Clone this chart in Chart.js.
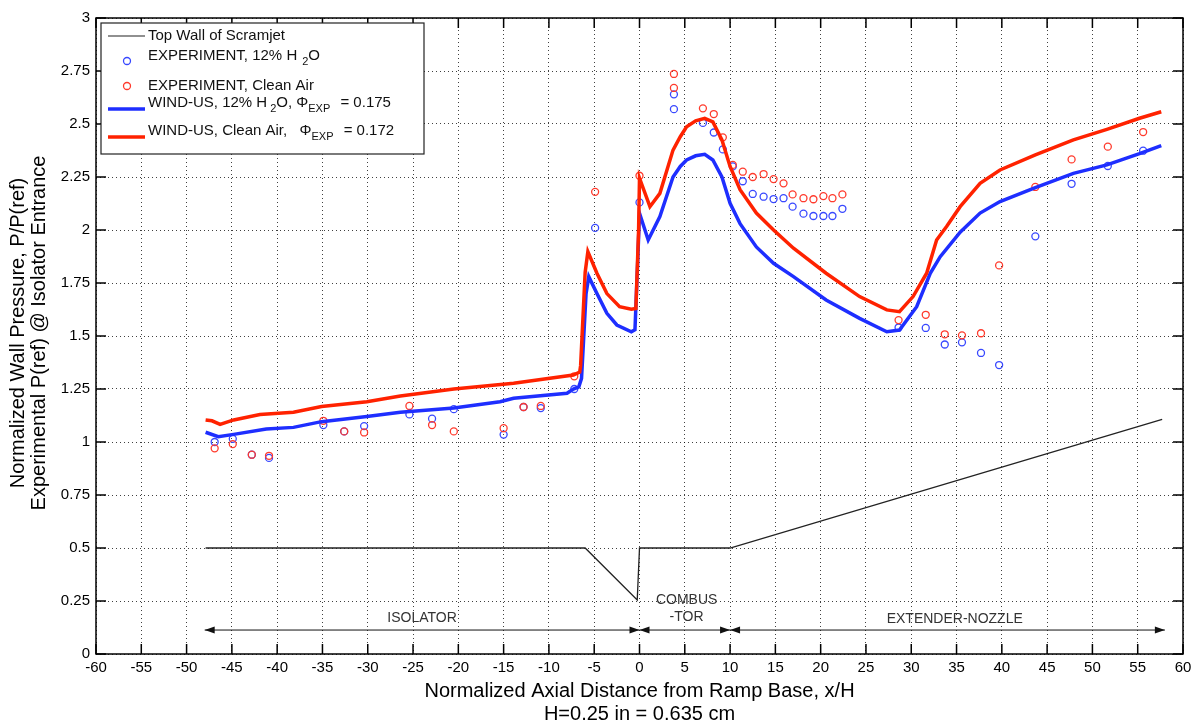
<!DOCTYPE html>
<html lang="en">
<head>
<meta charset="UTF-8">
<title>Normalized Wall Pressure - Scramjet</title>
<script src="https://cdn.jsdelivr.net/npm/chart.js"></script>
<style>
  body { margin: 0; background: #fff; }
</style>
</head>
<body>
<canvas id="chartWall" width="1197" height="725"></canvas>
<script>
// --- Daten ---

// Top wall of scramjet (geometry line)
const wallX = [-47.9, -6.0, -0.25, 0.0, 10.0, 57.7];
const wallY = [0.5, 0.5, 0.255, 0.5, 0.5, 1.107];

// Experiment points (same stations for both runs)
const expX = [-46.9, -44.9, -42.8, -40.9, -34.9, -32.6, -30.4, -25.4, -22.9, -20.5, -15.0, -12.8, -10.9, -7.2,
              -4.9, 0.0, 3.8, 3.8, 7.0, 8.2, 9.2, 10.3, 11.4, 12.5, 13.7, 14.8, 15.9, 16.9, 18.1, 19.2, 20.3,
              21.3, 22.4, 28.6, 31.6, 33.7, 35.6, 37.7, 39.7, 43.7, 47.7, 51.7, 55.6];
const expH2O = [1.0, 1.015, 0.94, 0.925, 1.08, 1.05, 1.075, 1.13, 1.11, 1.155, 1.035, 1.165, 1.16, 1.25,
                2.01, 2.13, 2.64, 2.57, 2.505, 2.46, 2.38, 2.30, 2.23, 2.17, 2.157, 2.146, 2.15, 2.11, 2.077, 2.066, 2.066,
                2.066, 2.10, 1.54, 1.538, 1.46, 1.47, 1.42, 1.363, 1.97, 2.218, 2.302, 2.374];
const expAir = [0.97, 0.99, 0.94, 0.935, 1.10, 1.05, 1.045, 1.17, 1.08, 1.05, 1.065, 1.165, 1.17, 1.31,
                2.18, 2.256, 2.736, 2.67, 2.574, 2.547, 2.437, 2.307, 2.275, 2.25, 2.264, 2.24, 2.22, 2.168, 2.15, 2.145, 2.16,
                2.15, 2.168, 1.575, 1.6, 1.508, 1.503, 1.513, 1.833, 2.203, 2.333, 2.393, 2.462];

// WIND-US, 12% H2O
const cfdH2OX = [-47.9, -46.5, -44.8, -41.2, -38.2, -35.1, -30.1, -26.4, -20.5, -15.4, -13.9, -8.0, -7.3, -6.7,
                 -6.4, -5.9, -5.6, -4.7, -3.6, -2.5, -0.9, -0.5, -0.2, 0.0, 0.96, 2.25, 3.7, 4.5, 5.2, 6.2, 7.2, 8.1, 9.1,
                 10.0, 11.1, 12.9, 14.8, 17.0, 20.6, 24.3, 27.3, 28.7, 30.6, 32.1, 33.2, 35.4, 37.6, 39.8, 43.7,
                 47.9, 51.6, 55.2, 57.6];
const cfdH2O = [1.046, 1.025, 1.036, 1.061, 1.069, 1.096, 1.12, 1.14, 1.16, 1.19, 1.206, 1.23, 1.25, 1.26,
                1.30, 1.70, 1.78, 1.70, 1.607, 1.552, 1.52, 1.53, 1.85, 2.079, 1.953, 2.063, 2.25, 2.30, 2.33, 2.35, 2.357, 2.33, 2.25,
                2.126, 2.03, 1.92, 1.843, 1.78, 1.67, 1.583, 1.52, 1.528, 1.638, 1.796, 1.874, 1.99, 2.08, 2.134, 2.2,
                2.267, 2.307, 2.36, 2.398];

// WIND-US, clean air
const cfdAirX = [-47.9, -47.2, -46.3, -44.8, -41.9, -38.2, -35.1, -30.1, -26.4, -20.5, -13.9, -7.3, -6.6,
                 -6.5, -6.0, -5.7, -4.7, -3.6, -2.2, -0.9, -0.4, -0.1, 0.0, 1.15, 2.25, 3.7, 4.5, 5.2, 6.2, 7.2, 8.1, 9.1,
                 10.0, 11.1, 12.9, 14.8, 17.0, 20.6, 24.3, 27.3, 28.7, 30.2, 31.7, 32.8, 33.9, 35.4, 37.6, 39.8,
                 43.7, 47.9, 51.6, 55.2, 57.6];
const cfdAir = [1.104, 1.10, 1.083, 1.104, 1.13, 1.14, 1.167, 1.19, 1.217, 1.25, 1.277, 1.316, 1.33,
                1.36, 1.80, 1.898, 1.796, 1.70, 1.638, 1.626, 1.63, 2.0, 2.244, 2.11, 2.173, 2.377, 2.44, 2.487, 2.515, 2.527, 2.51, 2.425,
                2.30, 2.19, 2.08, 2.0, 1.914, 1.796, 1.686, 1.623, 1.615, 1.686, 1.796, 1.953, 2.016, 2.11, 2.22, 2.283,
                2.354, 2.425, 2.475, 2.527, 2.558];

// Sections along the duct
const sectionEdges = [-48, 0, 10, 58];
const arrowLevel = 0.113;
const sectionText = ['ISOLATOR', 'COMBUS', '-TOR', 'EXTENDER-NOZZLE'];
const sectionTextX = [-24, 5.2, 5.2, 34.8];
const sectionTextY = [0.168, 0.255, 0.175, 0.165];

const xTitle = ['Normalized Axial Distance from Ramp Base, x/H', 'H=0.25 in = 0.635 cm'];
const yTitle = ['Normalized Wall Pressure, P/P(ref)', 'Experimental P(ref) @ Isolator Entrance'];

// --- Farben / Schrift ---
const FONT = '"Liberation Sans", Arial, Helvetica, sans-serif';
const BLUE_LINE = '#1e2eff';
const RED_LINE = '#ff2200';
const BLUE_PT = '#3848ff';
const RED_PT = '#ff3a2c';

const pts = (xs, ys) => xs.map((x, i) => ({ x: x, y: ys[i] }));

// Zeichnet Text mit Tiefstellungen (fuer Legende)
function richText(ctx, x, y, parts) {
    parts.forEach(p => {
        ctx.font = p.sub ? '11px ' + FONT : '15px ' + FONT;
        x += p.gap || 0;
        ctx.fillText(p.t, x, y + (p.sub ? 6 : 0));
        x += ctx.measureText(p.t).width;
    });
}

function arrowHead(ctx, tipX, y, dir) {
    ctx.beginPath();
    ctx.moveTo(tipX, y);
    ctx.lineTo(tipX - dir * 10, y - 3.5);
    ctx.lineTo(tipX - dir * 10, y + 3.5);
    ctx.closePath();
    ctx.fill();
}

const decorPlugin = {
    id: 'decor',
    afterDraw(chart) {
        const { ctx, chartArea: a, scales } = chart;
        const sx = scales.x, sy = scales.y;
        ctx.save();

        // Pfeile und Abschnittsnamen
        ctx.strokeStyle = '#111';
        ctx.fillStyle = '#111';
        ctx.lineWidth = 1;
        const ay = sy.getPixelForValue(arrowLevel);
        for (let i = 0; i < sectionEdges.length - 1; i++) {
            const x1 = sx.getPixelForValue(sectionEdges[i]);
            const x2 = sx.getPixelForValue(sectionEdges[i + 1]);
            ctx.beginPath();
            ctx.moveTo(x1, ay);
            ctx.lineTo(x2, ay);
            ctx.stroke();
            arrowHead(ctx, x1, ay, -1);
            arrowHead(ctx, x2, ay, 1);
        }
        ctx.fillStyle = '#333';
        ctx.font = '14px ' + FONT;
        ctx.textAlign = 'center';
        ctx.textBaseline = 'middle';
        sectionText.forEach((t, i) => {
            ctx.fillText(t, sx.getPixelForValue(sectionTextX[i]), sy.getPixelForValue(sectionTextY[i]));
        });

        // Rahmen und Ticks nach innen
        ctx.strokeStyle = '#000';
        ctx.lineWidth = 1.5;
        sx.ticks.forEach(t => {
            const px = sx.getPixelForValue(t.value);
            ctx.beginPath();
            ctx.moveTo(px, a.bottom); ctx.lineTo(px, a.bottom - 10);
            ctx.moveTo(px, a.top); ctx.lineTo(px, a.top + 10);
            ctx.stroke();
        });
        sy.ticks.forEach(t => {
            const py = sy.getPixelForValue(t.value);
            ctx.beginPath();
            ctx.moveTo(a.left, py); ctx.lineTo(a.left + 10, py);
            ctx.moveTo(a.right, py); ctx.lineTo(a.right - 10, py);
            ctx.stroke();
        });
        ctx.strokeRect(a.left, a.top, a.right - a.left, a.bottom - a.top);

        // Achsentitel
        ctx.fillStyle = '#000';
        ctx.font = '20px ' + FONT;
        ctx.textAlign = 'center';
        ctx.textBaseline = 'middle';
        const cx = (a.left + a.right) / 2;
        ctx.fillText(xTitle[0], cx, 691);
        ctx.fillText(xTitle[1], cx, 714);
        const cy = (a.top + a.bottom) / 2 - 3;
        [18, 39].forEach((px, i) => {
            ctx.save();
            ctx.translate(px, cy);
            ctx.rotate(-Math.PI / 2);
            ctx.fillText(yTitle[i], 0, 0);
            ctx.restore();
        });

        // Legende
        const lx = a.left + 5, ly = a.top + 5, lw = 323, lh = 131;
        ctx.fillStyle = '#fff';
        ctx.fillRect(lx, ly, lw, lh);
        ctx.strokeStyle = '#222';
        ctx.lineWidth = 1.2;
        ctx.strokeRect(lx, ly, lw, lh);

        const sampleL = lx + 7, sampleR = lx + 44, textX = lx + 47;
        ctx.textAlign = 'left';
        ctx.textBaseline = 'middle';
        ctx.fillStyle = '#111';

        // Zeile 1
        ctx.strokeStyle = '#222';
        ctx.lineWidth = 1.2;
        ctx.beginPath(); ctx.moveTo(sampleL, ly + 13); ctx.lineTo(sampleR, ly + 13); ctx.stroke();
        richText(ctx, textX, ly + 13, [{ t: chart.data.datasets[0].label }]);

        // Zeile 2 / 3: Kreise
        ctx.lineWidth = 1.3;
        ctx.strokeStyle = BLUE_PT;
        ctx.beginPath(); ctx.arc(lx + 26, ly + 38, 3.5, 0, Math.PI * 2); ctx.stroke();
        richText(ctx, textX, ly + 33, [{ t: 'EXPERIMENT, 12% H' }, { t: '2', sub: true, gap: 5 }, { t: 'O' }]);
        ctx.strokeStyle = RED_PT;
        ctx.beginPath(); ctx.arc(lx + 26, ly + 63, 3.5, 0, Math.PI * 2); ctx.stroke();
        richText(ctx, textX, ly + 63, [{ t: 'EXPERIMENT, Clean Air' }]);

        // Zeile 4 / 5: dicke Linien
        ctx.lineWidth = 3.5;
        ctx.strokeStyle = BLUE_LINE;
        ctx.beginPath(); ctx.moveTo(sampleL, ly + 86); ctx.lineTo(sampleR, ly + 86); ctx.stroke();
        richText(ctx, textX, ly + 80, [{ t: 'WIND-US, 12% H' }, { t: '2', sub: true, gap: 3 }, { t: 'O, ' },
            { t: 'Φ' }, { t: 'EXP', sub: true }, { t: ' = 0.175', gap: 6 }]);
        ctx.strokeStyle = RED_LINE;
        ctx.beginPath(); ctx.moveTo(sampleL, ly + 114); ctx.lineTo(sampleR, ly + 114); ctx.stroke();
        richText(ctx, textX, ly + 108, [{ t: 'WIND-US, Clean Air,  ' }, { t: 'Φ', gap: 4 }, { t: 'EXP', sub: true },
            { t: ' = 0.172', gap: 6 }]);

        ctx.restore();
    }
};

new Chart(document.getElementById('chartWall'), {
    type: 'line',
    data: {
        datasets: [
            {
                label: 'Top Wall of Scramjet',
                data: pts(wallX, wallY),
                borderColor: '#222', borderWidth: 1.3,
                pointRadius: 0, order: 5
            },
            {
                label: 'EXPERIMENT, 12% H2O',
                data: pts(expX, expH2O),
                showLine: false,
                pointStyle: 'circle', pointRadius: 3.5,
                pointBorderColor: BLUE_PT, pointBackgroundColor: 'rgba(0,0,0,0)', pointBorderWidth: 1.3,
                order: 4
            },
            {
                label: 'EXPERIMENT, Clean Air',
                data: pts(expX, expAir),
                showLine: false,
                pointStyle: 'circle', pointRadius: 3.5,
                pointBorderColor: RED_PT, pointBackgroundColor: 'rgba(0,0,0,0)', pointBorderWidth: 1.3,
                order: 3
            },
            {
                label: 'WIND-US, 12% H2O',
                data: pts(cfdH2OX, cfdH2O),
                borderColor: BLUE_LINE, borderWidth: 3.5,
                pointRadius: 0, order: 2
            },
            {
                label: 'WIND-US, Clean Air',
                data: pts(cfdAirX, cfdAir),
                borderColor: RED_LINE, borderWidth: 3.5,
                pointRadius: 0, order: 1
            }
        ]
    },
    options: {
        responsive: false,
        animation: false,
        layout: { padding: { top: 18, right: 14, left: 0, bottom: 0 } },
        plugins: { legend: { display: false }, tooltip: { enabled: false } },
        scales: {
            x: {
                type: 'linear', min: -60, max: 60,
                ticks: {
                    stepSize: 5, autoSkip: false, maxRotation: 0, padding: 5,
                    color: '#000', font: { family: FONT, size: 15 },
                    callback: v => String(v)
                },
                grid: { color: 'rgba(0,0,0,0.75)', lineWidth: 1, drawTicks: false },
                border: { display: false, dash: [1, 3] },
                afterFit: s => { s.height = 71; }
            },
            y: {
                min: 0, max: 3,
                ticks: {
                    stepSize: 0.25, padding: 6,
                    color: '#000', font: { family: FONT, size: 15 },
                    callback: v => String(v)
                },
                grid: { color: 'rgba(0,0,0,0.75)', lineWidth: 1, drawTicks: false },
                border: { display: false, dash: [1, 3] },
                afterFit: s => { s.width = 96; }
            }
        }
    },
    plugins: [decorPlugin]
});
</script>
</body>
</html>
